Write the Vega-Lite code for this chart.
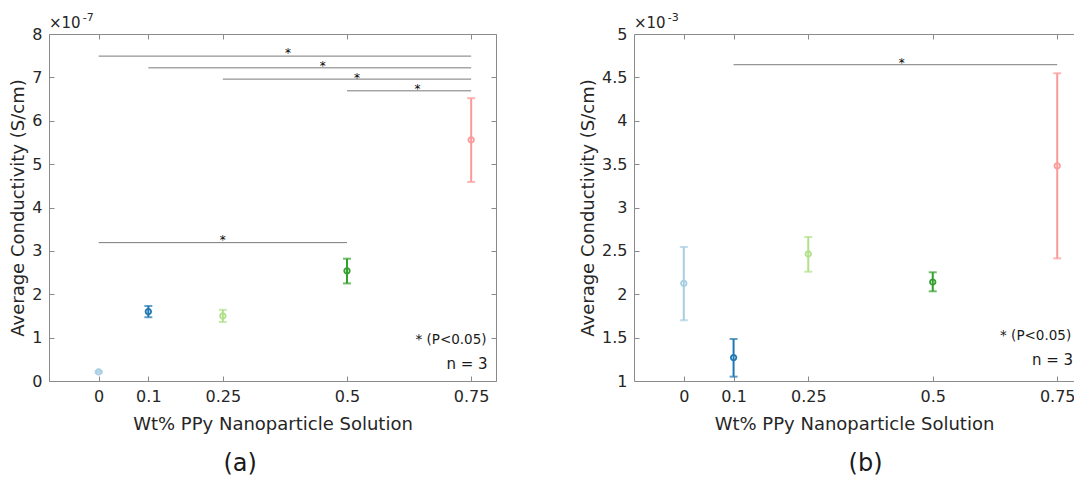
{
  "$schema": "https://vega.github.io/schema/vega-lite/v6.json",
  "padding": {"left": 9, "top": 11, "right": 0, "bottom": 0},
  "background": "white",
  "spacing": 138,
  "bounds": "flush",
  "config": {
    "font": "DejaVu Sans",
    "view": {"stroke": null},
    "axis": {
      "grid": false, "domain": true, "domainColor": "#8a8a8a", "domainWidth": 1,
      "tickColor": "#8a8a8a", "tickSize": -5, "tickWidth": 1,
      "labelFont": "DejaVu Sans", "labelFontSize": 16, "labelColor": "#262626", "labelPadding": 12,
      "labelFlush": false, "labelOverlap": false,
      "titleFont": "DejaVu Sans", "titleFontSize": 18, "titleFontWeight": "normal", "titleColor": "#262626"
    }
  },
  "datasets": {
    "a": [
      {"wt": 0, "group": "0", "mean": 0.21, "lo": 0.19, "hi": 0.23},
      {"wt": 0.1, "group": "0.1", "mean": 1.60, "lo": 1.47, "hi": 1.73},
      {"wt": 0.25, "group": "0.25", "mean": 1.50, "lo": 1.36, "hi": 1.64},
      {"wt": 0.5, "group": "0.5", "mean": 2.54, "lo": 2.25, "hi": 2.82},
      {"wt": 0.75, "group": "0.75", "mean": 5.56, "lo": 4.59, "hi": 6.52}
    ],
    "b": [
      {"wt": 0, "group": "0", "mean": 2.126, "lo": 1.70, "hi": 2.545},
      {"wt": 0.1, "group": "0.1", "mean": 1.27, "lo": 1.05, "hi": 1.484},
      {"wt": 0.25, "group": "0.25", "mean": 2.464, "lo": 2.26, "hi": 2.66},
      {"wt": 0.5, "group": "0.5", "mean": 2.141, "lo": 2.034, "hi": 2.253},
      {"wt": 0.75, "group": "0.75", "mean": 3.48, "lo": 2.414, "hi": 4.547}
    ],
    "asig": [
      {"x1": 0, "x2": 0.75, "y": 7.49, "sx": 0.381, "sy": 7.46},
      {"x1": 0.1, "x2": 0.75, "y": 7.22, "sx": 0.451, "sy": 7.16},
      {"x1": 0.25, "x2": 0.75, "y": 6.96, "sx": 0.52, "sy": 6.90},
      {"x1": 0.5, "x2": 0.75, "y": 6.69, "sx": 0.642, "sy": 6.65},
      {"x1": 0, "x2": 0.5, "y": 3.19, "sx": 0.25, "sy": 3.16}
    ],
    "bsig": [
      {"x1": 0.1, "x2": 0.75, "y": 4.646, "sx": 0.438, "sy": 4.62}
    ]
  },
  "hconcat": [
    {
      "width": 447,
      "height": 347,
      "resolve": {"axis": {"x": "independent", "y": "independent"}},
      "layer": [
        {
          "data": {"name": "a"},
          "mark": {"type": "rule", "strokeWidth": 2},
          "encoding": {
            "x": {"field": "wt", "type": "quantitative", "scale": {"domain": [-0.1, 0.8], "nice": false, "zero": false},
                  "axis": {"orient": "bottom", "values": [0, 0.1, 0.25, 0.5, 0.75], "format": ".2~f", "title": "Wt% PPy Nanoparticle Solution", "titlePadding": 11}},
            "y": {"field": "lo", "type": "quantitative", "scale": {"domain": [0, 8], "nice": false, "zero": false},
                  "axis": {"orient": "left", "values": [0, 1, 2, 3, 4, 5, 6, 7, 8], "format": ".1~f", "title": "Average Conductivity (S/cm)", "titlePadding": 4}},
            "y2": {"field": "hi"},
            "color": {"field": "group", "type": "nominal", "scale": {"domain": ["0", "0.1", "0.25", "0.5", "0.75"], "range": ["#a6cee3", "#1f78b4", "#b2df8a", "#33a02c", "#fb9a99"]}, "legend": null}
          }
        },
        {
          "data": {"name": "a"},
          "mark": {"type": "tick", "orient": "horizontal", "size": 8, "thickness": 2},
          "encoding": {
            "x": {"field": "wt", "type": "quantitative", "scale": {"domain": [-0.1, 0.8], "nice": false, "zero": false}, "axis": null},
            "y": {"field": "lo", "type": "quantitative", "scale": {"domain": [0, 8], "nice": false, "zero": false}, "axis": null},
            "color": {"field": "group", "type": "nominal", "legend": null}
          }
        },
        {
          "data": {"name": "a"},
          "mark": {"type": "tick", "orient": "horizontal", "size": 8, "thickness": 2},
          "encoding": {
            "x": {"field": "wt", "type": "quantitative", "scale": {"domain": [-0.1, 0.8], "nice": false, "zero": false}, "axis": null},
            "y": {"field": "hi", "type": "quantitative", "scale": {"domain": [0, 8], "nice": false, "zero": false}, "axis": null},
            "color": {"field": "group", "type": "nominal", "legend": null}
          }
        },
        {
          "data": {"name": "a"},
          "mark": {"type": "point", "filled": false, "size": 30, "strokeWidth": 1.8, "opacity": 1},
          "encoding": {
            "x": {"field": "wt", "type": "quantitative", "scale": {"domain": [-0.1, 0.8], "nice": false, "zero": false}, "axis": null},
            "y": {"field": "mean", "type": "quantitative", "scale": {"domain": [0, 8], "nice": false, "zero": false}, "axis": null},
            "color": {"field": "group", "type": "nominal", "legend": null}
          }
        },
        {
          "data": {"name": "a"},
          "mark": {"type": "point", "opacity": 0},
          "encoding": {
            "x": {"field": "wt", "type": "quantitative", "scale": {"domain": [-0.1, 0.8], "nice": false, "zero": false},
                  "axis": {"orient": "top", "values": [0, 0.1, 0.25, 0.5, 0.75], "labels": false, "title": null}},
            "y": {"field": "mean", "type": "quantitative", "scale": {"domain": [0, 8], "nice": false, "zero": false},
                  "axis": {"orient": "right", "values": [0, 1, 2, 3, 4, 5, 6, 7, 8], "labels": false, "title": null}}
          }
        },
        {
          "data": {"name": "asig"},
          "mark": {"type": "rule", "color": "#7a7a7a", "strokeWidth": 1},
          "encoding": {
            "x": {"field": "x1", "type": "quantitative", "scale": {"domain": [-0.1, 0.8], "nice": false, "zero": false}, "axis": null},
            "x2": {"field": "x2"},
            "y": {"field": "y", "type": "quantitative", "scale": {"domain": [0, 8], "nice": false, "zero": false}, "axis": null}
          }
        },
        {
          "data": {"name": "asig"},
          "mark": {"type": "text", "text": "*", "fontSize": 12, "color": "black", "baseline": "alphabetic", "align": "center"},
          "encoding": {
            "x": {"field": "sx", "type": "quantitative", "scale": {"domain": [-0.1, 0.8], "nice": false, "zero": false}, "axis": null},
            "y": {"field": "sy", "type": "quantitative", "scale": {"domain": [0, 8], "nice": false, "zero": false}, "axis": null}
          }
        },
        {
          "data": {"values": [{"x": 0.781, "y": 0.945, "label": "* (P<0.05)"}]},
          "mark": {"type": "text", "fontSize": 13.5, "color": "#1a1a1a", "baseline": "middle", "align": "right"},
          "encoding": {
            "x": {"field": "x", "type": "quantitative", "scale": {"domain": [-0.1, 0.8], "nice": false, "zero": false}, "axis": null},
            "y": {"field": "y", "type": "quantitative", "scale": {"domain": [0, 8], "nice": false, "zero": false}, "axis": null},
            "text": {"field": "label"}
          }
        },
        {
          "data": {"values": [{"x": 0.783, "y": 0.39, "label": "n = 3"}]},
          "mark": {"type": "text", "fontSize": 15, "color": "#1a1a1a", "baseline": "middle", "align": "right"},
          "encoding": {
            "x": {"field": "x", "type": "quantitative", "scale": {"domain": [-0.1, 0.8], "nice": false, "zero": false}, "axis": null},
            "y": {"field": "y", "type": "quantitative", "scale": {"domain": [0, 8], "nice": false, "zero": false}, "axis": null},
            "text": {"field": "label"}
          }
        },
        {
          "data": {"values": [{"x": 0.285, "y": -1.91, "label": "(a)"}]},
          "mark": {"type": "text", "fontSize": 24, "color": "#1a1a1a", "baseline": "middle", "align": "center"},
          "encoding": {
            "x": {"field": "x", "type": "quantitative", "scale": {"domain": [-0.1, 0.8], "nice": false, "zero": false}, "axis": null},
            "y": {"field": "y", "type": "quantitative", "scale": {"domain": [0, 8], "nice": false, "zero": false}, "axis": null},
            "text": {"field": "label"}
          }
        },
        {
          "data": {"values": [{"x": -0.1, "y": 8.14, "label": "×10"}]},
          "mark": {"type": "text", "fontSize": 15, "color": "#262626", "baseline": "alphabetic", "align": "left"},
          "encoding": {
            "x": {"field": "x", "type": "quantitative", "scale": {"domain": [-0.1, 0.8], "nice": false, "zero": false}, "axis": null},
            "y": {"field": "y", "type": "quantitative", "scale": {"domain": [0, 8], "nice": false, "zero": false}, "axis": null},
            "text": {"field": "label"}
          }
        },
        {
          "data": {"values": [{"x": -0.032, "y": 8.30, "label": "-7"}]},
          "mark": {"type": "text", "fontSize": 11, "color": "#262626", "baseline": "alphabetic", "align": "left"},
          "encoding": {
            "x": {"field": "x", "type": "quantitative", "scale": {"domain": [-0.1, 0.8], "nice": false, "zero": false}, "axis": null},
            "y": {"field": "y", "type": "quantitative", "scale": {"domain": [0, 8], "nice": false, "zero": false}, "axis": null},
            "text": {"field": "label"}
          }
        }
      ]
    },
    {
      "width": 440,
      "height": 347,
      "resolve": {"axis": {"x": "independent", "y": "independent"}},
      "layer": [
        {
          "data": {"name": "b"},
          "mark": {"type": "rule", "strokeWidth": 2},
          "encoding": {
            "x": {"field": "wt", "type": "quantitative", "scale": {"domain": [-0.1, 0.7837], "nice": false, "zero": false},
                  "axis": {"orient": "bottom", "values": [0, 0.1, 0.25, 0.5, 0.75], "format": ".2~f", "title": "Wt% PPy Nanoparticle Solution", "titlePadding": 11}},
            "y": {"field": "lo", "type": "quantitative", "scale": {"domain": [1, 5], "nice": false, "zero": false},
                  "axis": {"orient": "left", "values": [1, 1.5, 2, 2.5, 3, 3.5, 4, 4.5, 5], "format": ".1~f", "title": "Average Conductivity (S/cm)", "titlePadding": 4}},
            "y2": {"field": "hi"},
            "color": {"field": "group", "type": "nominal", "legend": null}
          }
        },
        {
          "data": {"name": "b"},
          "mark": {"type": "tick", "orient": "horizontal", "size": 8, "thickness": 2},
          "encoding": {
            "x": {"field": "wt", "type": "quantitative", "scale": {"domain": [-0.1, 0.7837], "nice": false, "zero": false}, "axis": null},
            "y": {"field": "lo", "type": "quantitative", "scale": {"domain": [1, 5], "nice": false, "zero": false}, "axis": null},
            "color": {"field": "group", "type": "nominal", "legend": null}
          }
        },
        {
          "data": {"name": "b"},
          "mark": {"type": "tick", "orient": "horizontal", "size": 8, "thickness": 2},
          "encoding": {
            "x": {"field": "wt", "type": "quantitative", "scale": {"domain": [-0.1, 0.7837], "nice": false, "zero": false}, "axis": null},
            "y": {"field": "hi", "type": "quantitative", "scale": {"domain": [1, 5], "nice": false, "zero": false}, "axis": null},
            "color": {"field": "group", "type": "nominal", "legend": null}
          }
        },
        {
          "data": {"name": "b"},
          "mark": {"type": "point", "filled": false, "size": 30, "strokeWidth": 1.8, "opacity": 1},
          "encoding": {
            "x": {"field": "wt", "type": "quantitative", "scale": {"domain": [-0.1, 0.7837], "nice": false, "zero": false}, "axis": null},
            "y": {"field": "mean", "type": "quantitative", "scale": {"domain": [1, 5], "nice": false, "zero": false}, "axis": null},
            "color": {"field": "group", "type": "nominal", "legend": null}
          }
        },
        {
          "data": {"name": "b"},
          "mark": {"type": "point", "opacity": 0},
          "encoding": {
            "x": {"field": "wt", "type": "quantitative", "scale": {"domain": [-0.1, 0.7837], "nice": false, "zero": false},
                  "axis": {"orient": "top", "values": [0, 0.1, 0.25, 0.5, 0.75], "labels": false, "title": null}},
            "y": {"field": "mean", "type": "quantitative", "scale": {"domain": [1, 5], "nice": false, "zero": false}, "axis": null}
          }
        },
        {
          "data": {"name": "bsig"},
          "mark": {"type": "rule", "color": "#7a7a7a", "strokeWidth": 1},
          "encoding": {
            "x": {"field": "x1", "type": "quantitative", "scale": {"domain": [-0.1, 0.7837], "nice": false, "zero": false}, "axis": null},
            "x2": {"field": "x2"},
            "y": {"field": "y", "type": "quantitative", "scale": {"domain": [1, 5], "nice": false, "zero": false}, "axis": null}
          }
        },
        {
          "data": {"name": "bsig"},
          "mark": {"type": "text", "text": "*", "fontSize": 12, "color": "black", "baseline": "alphabetic", "align": "center"},
          "encoding": {
            "x": {"field": "sx", "type": "quantitative", "scale": {"domain": [-0.1, 0.7837], "nice": false, "zero": false}, "axis": null},
            "y": {"field": "sy", "type": "quantitative", "scale": {"domain": [1, 5], "nice": false, "zero": false}, "axis": null}
          }
        },
        {
          "data": {"values": [{"x": 0.778, "y": 1.52, "label": "* (P<0.05)"}]},
          "mark": {"type": "text", "fontSize": 13.5, "color": "#1a1a1a", "baseline": "middle", "align": "right"},
          "encoding": {
            "x": {"field": "x", "type": "quantitative", "scale": {"domain": [-0.1, 0.7837], "nice": false, "zero": false}, "axis": null},
            "y": {"field": "y", "type": "quantitative", "scale": {"domain": [1, 5], "nice": false, "zero": false}, "axis": null},
            "text": {"field": "label"}
          }
        },
        {
          "data": {"values": [{"x": 0.782, "y": 1.24, "label": "n = 3"}]},
          "mark": {"type": "text", "fontSize": 15, "color": "#1a1a1a", "baseline": "middle", "align": "right"},
          "encoding": {
            "x": {"field": "x", "type": "quantitative", "scale": {"domain": [-0.1, 0.7837], "nice": false, "zero": false}, "axis": null},
            "y": {"field": "y", "type": "quantitative", "scale": {"domain": [1, 5], "nice": false, "zero": false}, "axis": null},
            "text": {"field": "label"}
          }
        },
        {
          "data": {"values": [{"x": 0.365, "y": 0.043, "label": "(b)"}]},
          "mark": {"type": "text", "fontSize": 24, "color": "#1a1a1a", "baseline": "middle", "align": "center"},
          "encoding": {
            "x": {"field": "x", "type": "quantitative", "scale": {"domain": [-0.1, 0.7837], "nice": false, "zero": false}, "axis": null},
            "y": {"field": "y", "type": "quantitative", "scale": {"domain": [1, 5], "nice": false, "zero": false}, "axis": null},
            "text": {"field": "label"}
          }
        },
        {
          "data": {"values": [{"x": -0.1, "y": 5.069, "label": "×10"}]},
          "mark": {"type": "text", "fontSize": 15, "color": "#262626", "baseline": "alphabetic", "align": "left"},
          "encoding": {
            "x": {"field": "x", "type": "quantitative", "scale": {"domain": [-0.1, 0.7837], "nice": false, "zero": false}, "axis": null},
            "y": {"field": "y", "type": "quantitative", "scale": {"domain": [1, 5], "nice": false, "zero": false}, "axis": null},
            "text": {"field": "label"}
          }
        },
        {
          "data": {"values": [{"x": -0.032, "y": 5.15, "label": "-3"}]},
          "mark": {"type": "text", "fontSize": 11, "color": "#262626", "baseline": "alphabetic", "align": "left"},
          "encoding": {
            "x": {"field": "x", "type": "quantitative", "scale": {"domain": [-0.1, 0.7837], "nice": false, "zero": false}, "axis": null},
            "y": {"field": "y", "type": "quantitative", "scale": {"domain": [1, 5], "nice": false, "zero": false}, "axis": null},
            "text": {"field": "label"}
          }
        }
      ]
    }
  ]
}
